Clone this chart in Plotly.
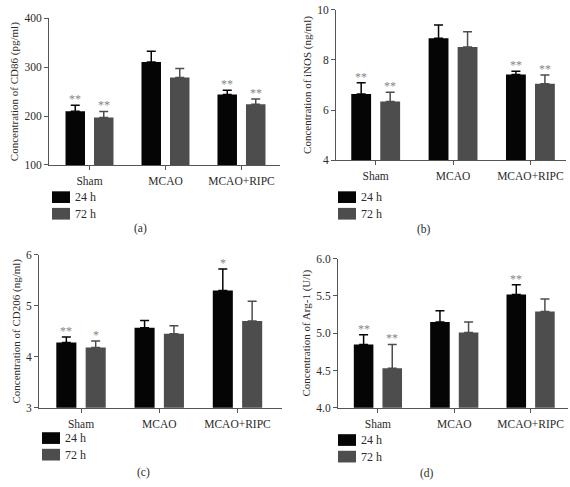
import plotly.graph_objects as go

W, H = 570, 487

categories = ["Sham", "MCAO", "MCAO+RIPC"]
series_names = ["24 h", "72 h"]

# Panel (a) CD86 (pg/ml)
a_24 = [210, 311, 244]
a_24_err = [12, 22, 9]
a_72 = [197, 279, 224.5]
a_72_err = [12.5, 18.5, 10.5]
a_stars_24 = ["**", "", "**"]
a_stars_72 = ["**", "", "**"]

# Panel (b) iNOS (ng/ml)
b_24 = [6.64, 8.87, 7.42]
b_24_err = [0.45, 0.53, 0.13]
b_72 = [6.34, 8.52, 7.05]
b_72_err = [0.37, 0.61, 0.35]
b_stars_24 = ["**", "", "**"]
b_stars_72 = ["**", "", "**"]

# Panel (c) CD206 (ng/ml)
c_24 = [4.28, 4.57, 5.30]
c_24_err = [0.11, 0.14, 0.42]
c_72 = [4.18, 4.45, 4.70]
c_72_err = [0.13, 0.16, 0.39]
c_stars_24 = ["**", "", "*"]
c_stars_72 = ["*", "", ""]

# Panel (d) Arg-1 (U/l)
d_24 = [4.85, 5.15, 5.52]
d_24_err = [0.13, 0.15, 0.13]
d_72 = [4.53, 5.01, 5.29]
d_72_err = [0.32, 0.14, 0.17]
d_stars_24 = ["**", "", "**"]
d_stars_72 = ["**", "", ""]

y_titles = ["Concentration of CD86 (pg/ml)", "Concentration of iNOS (ng/ml)",
            "Concentration of CD206 (ng/ml)", "Concentration of Arg-1 (U/l)"]
y_ticks = [[100, 200, 300, 400], [4, 6, 8, 10], [3, 4, 5, 6], [4.0, 4.5, 5.0, 5.5, 6.0]]
y_ticktext = [["100", "200", "300", "400"], ["4", "6", "8", "10"], ["3", "4", "5", "6"],
              ["4.0", "4.5", "5.0", "5.5", "6.0"]]
captions = ["(a)", "(b)", "(c)", "(d)"]

FONT = "Liberation Serif"
TXT = "#2b2b2b"
AX = "#555555"
C24 = "#050505"
C72 = "#4d4d4d"
STAR = "#858585"

def px(x):
    return x / W

def py(y):
    return 1 - y / H

# pixel geometry of each panel: left, right, top, bottom, x-range
panels = [
    dict(L=49, R=280, T=12.7, B=163, xr=[-0.533, 2.507], yr=[100, 400],
         d24=a_24, e24=a_24_err, d72=a_72, e72=a_72_err, s24=a_stars_24, s72=a_stars_72,
         leg=(52, 190), cap=(140, 228)),
    dict(L=336, R=566, T=4, B=158, xr=[-0.513, 2.46], yr=[4, 10],
         d24=b_24, e24=b_24_err, d72=b_72, e72=b_72_err, s24=b_stars_24, s72=b_stars_72,
         leg=(338, 190), cap=(424, 229)),
    dict(L=39, R=282, T=255, B=412, xr=[-0.537, 2.569], yr=[3, 6],
         d24=c_24, e24=c_24_err, d72=c_72, e72=c_72_err, s24=c_stars_24, s72=c_stars_72,
         leg=(42, 437), cap=(143, 478)),
    dict(L=338, R=568, T=259, B=412, xr=[-0.523, 2.49], yr=[4, 6],
         d24=d_24, e24=d_24_err, d72=d_72, e72=d_72_err, s24=d_stars_24, s72=d_stars_72,
         leg=(338, 439), cap=(427, 479)),
]

fig = go.Figure()
annotations = []
shapes = []
BARGAP = 0.25
GROUPGAP = 0.316
half_slot = (1 - BARGAP) / 4  # offset of each bar centre from category centre

for i, p in enumerate(panels):
    sfx = "" if i == 0 else str(i + 1)
    xa, ya = "x" + sfx, "y" + sfx
    for name, vals, errs, col in [(series_names[0], p["d24"], p["e24"], C24),
                                  (series_names[1], p["d72"], p["e72"], C72)]:
        fig.add_trace(go.Bar(
            x=categories, y=vals, name=name, marker=dict(color=col, line=dict(width=0)),
            error_y=dict(type="data", array=errs, arrayminus=[0] * len(errs), symmetric=False,
                         color=col, thickness=1.5, width=4.5),
            xaxis=xa, yaxis=ya, showlegend=False))
    # significance stars
    for j in range(len(categories)):
        for stars, vals, errs, off in [(p["s24"], p["d24"], p["e24"], -half_slot),
                                       (p["s72"], p["d72"], p["e72"], half_slot)]:
            if stars[j]:
                annotations.append(dict(x=j + off, y=vals[j] + errs[j], xref=xa, yref=ya,
                                        text=stars[j], showarrow=False, yanchor="bottom",
                                        yshift=-3, font=dict(family=FONT, size=12, color=STAR)))
    axis_common = dict(showline=True, linecolor=AX, linewidth=1, ticks="outside",
                       ticklen=4, tickcolor=AX, showgrid=False, zeroline=False)
    fig.layout["xaxis" + sfx] = dict(domain=[px(p["L"]), px(p["R"])], anchor=ya,
                                     type="category", range=p["xr"], ticklabelstandoff=1,
                                     tickfont=dict(family=FONT, size=11.5, color=TXT),
                                     **axis_common)
    fig.layout["yaxis" + sfx] = dict(domain=[py(p["B"]), py(p["T"])], anchor=xa,
                                     range=p["yr"], tickvals=y_ticks[i], ticktext=y_ticktext[i],
                                     tickfont=dict(family=FONT, size=11.5, color=TXT),
                                     title=dict(text=y_titles[i], standoff=3,
                                                font=dict(family=FONT, size=11, color=TXT)),
                                     **axis_common)
    # legend swatches and labels
    lx, ly = p["leg"]
    for k, (name, col) in enumerate([(series_names[0], C24), (series_names[1], C72)]):
        y0 = ly + k * 17
        shapes.append(dict(type="rect", xref="paper", yref="paper",
                           x0=px(lx), x1=px(lx + 18), y0=py(y0 + 12), y1=py(y0),
                           fillcolor=col, line=dict(width=0)))
        annotations.append(dict(x=px(lx + 21), y=py(y0 + 6), xref="paper", yref="paper",
                                text=name, showarrow=False, xanchor="left", yanchor="middle",
                                font=dict(family=FONT, size=12, color=TXT)))
    cx, cy = p["cap"]
    annotations.append(dict(x=px(cx), y=py(cy), xref="paper", yref="paper", text=captions[i],
                            showarrow=False, xanchor="center", yanchor="middle",
                            font=dict(family=FONT, size=11.5, color=TXT)))

fig.update_layout(
    width=W, height=H, margin=dict(l=0, r=0, t=0, b=0),
    paper_bgcolor="white", plot_bgcolor="white",
    barmode="group", bargap=BARGAP, bargroupgap=GROUPGAP,
    annotations=annotations, shapes=shapes, showlegend=False,
    font=dict(family=FONT, size=11, color=TXT),
)

fig.write_html("out.html", config={"displayModeBar": False},
               post_script="document.body.style.margin='0px';")
